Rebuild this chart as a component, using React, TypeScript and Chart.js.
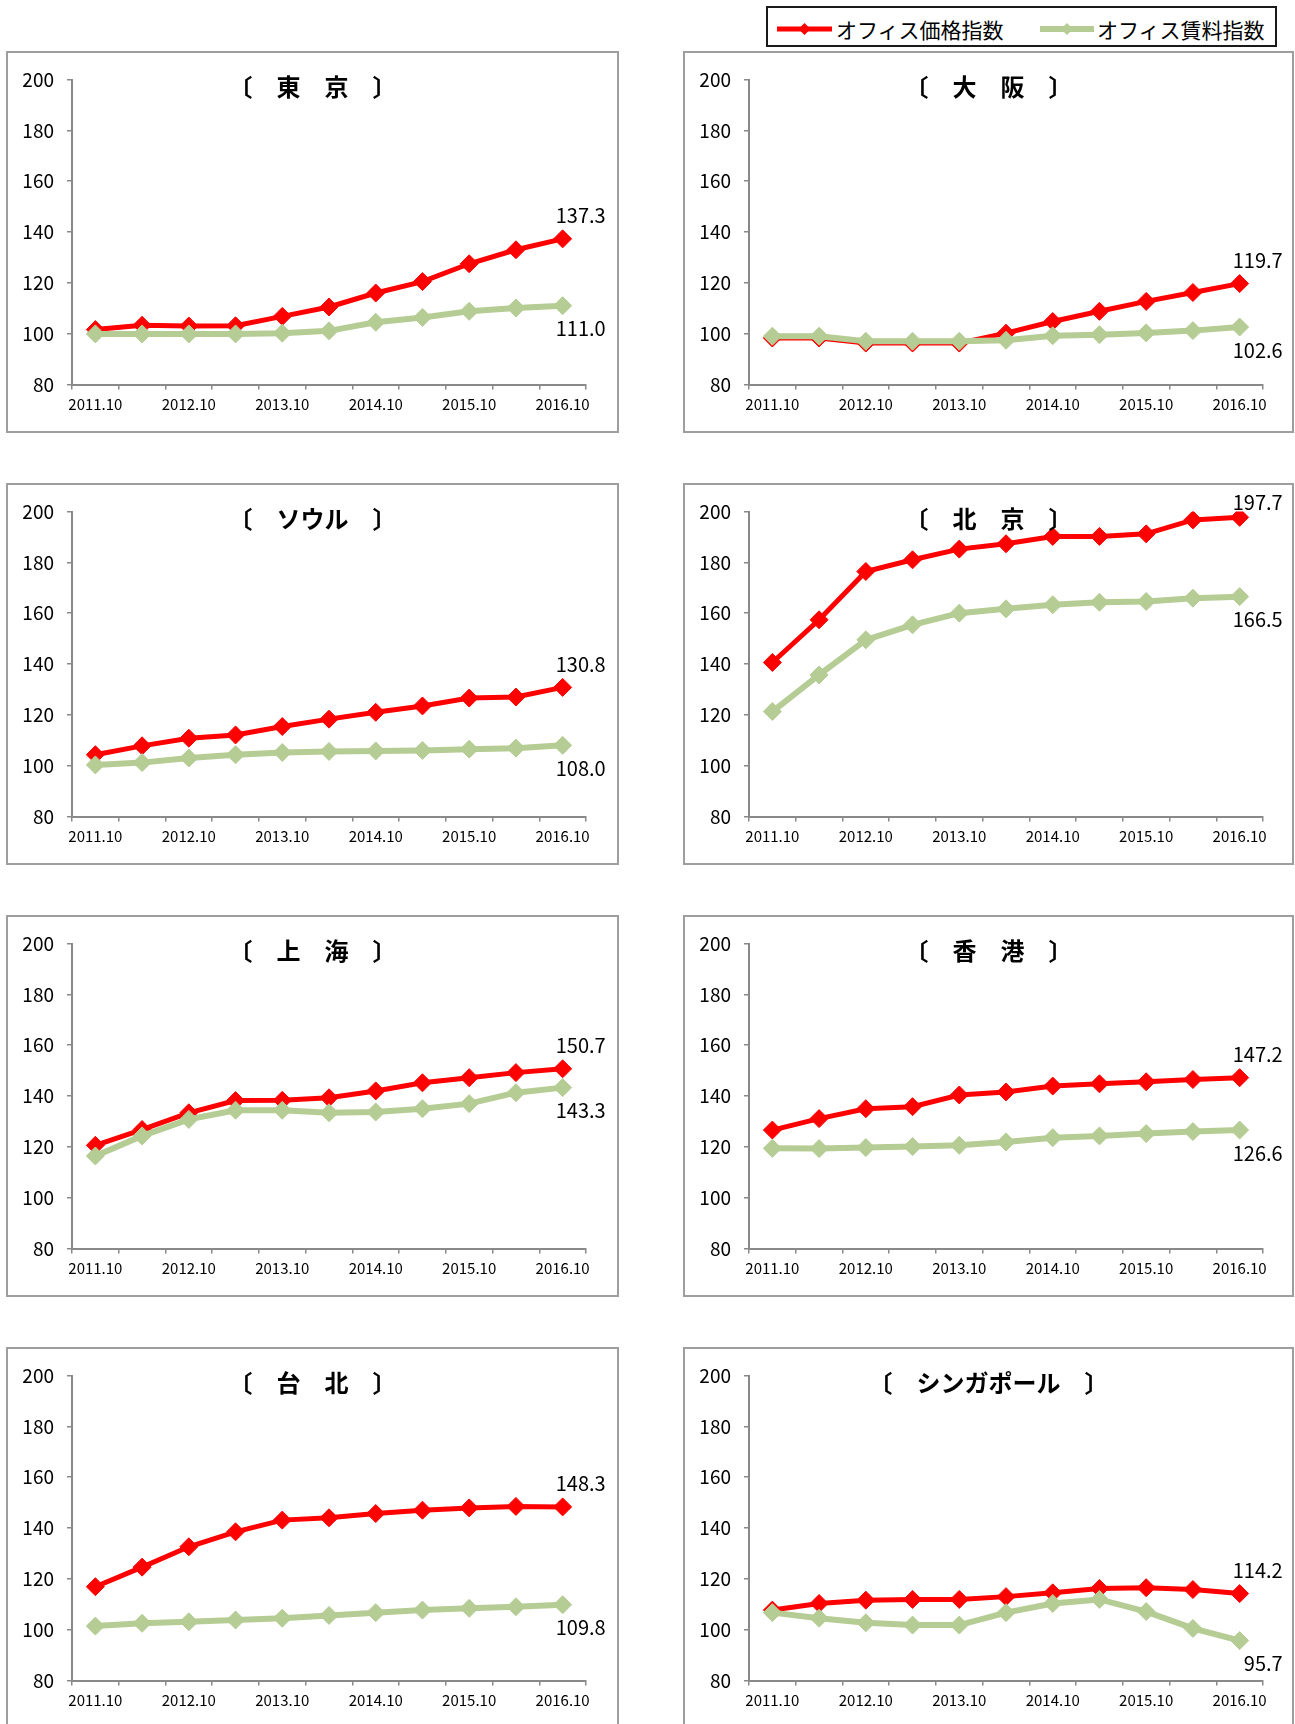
import React, { useEffect, useRef } from "react";
import { Chart, registerables } from "chart.js";

Chart.register(...registerables);

// ---- data ----
const categories = [
  "2011.10", "2012.4", "2012.10", "2013.4", "2013.10", "2014.4",
  "2014.10", "2015.4", "2015.10", "2016.4", "2016.10",
];
const yTicks = [80, 100, 120, 140, 160, 180, 200];
const seriesNames = ["オフィス価格指数", "オフィス賃料指数"];

const tokyoPrice = [101.6, 103.3, 103.0, 103.1, 106.8, 110.5, 116.0, 120.5, 127.5, 133.0, 137.3];
const tokyoRent = [99.9, 99.9, 99.9, 99.9, 100.2, 101.1, 104.5, 106.4, 108.8, 110.1, 111.0];

const osakaPrice = [98.3, 98.3, 96.3, 96.3, 96.3, 100.2, 104.8, 108.8, 112.7, 116.2, 119.7];
const osakaRent = [99.0, 99.0, 97.0, 97.0, 97.0, 97.4, 99.2, 99.6, 100.3, 101.2, 102.6];

const seoulPrice = [104.3, 107.8, 110.8, 112.1, 115.4, 118.3, 121.0, 123.5, 126.6, 127.0, 130.8];
const seoulRent = [100.3, 101.2, 103.0, 104.3, 105.2, 105.6, 105.8, 106.0, 106.5, 106.9, 108.0];

const beijingPrice = [140.6, 157.4, 176.4, 181.0, 185.2, 187.3, 190.2, 190.2, 191.2, 196.7, 197.7];
const beijingRent = [121.3, 135.7, 149.5, 155.4, 160.0, 161.7, 163.3, 164.3, 164.6, 165.9, 166.5];

const shanghaiPrice = [120.6, 126.8, 133.4, 138.2, 138.3, 139.3, 142.0, 145.2, 147.2, 149.2, 150.7];
const shanghaiRent = [116.4, 124.3, 130.8, 134.4, 134.4, 133.4, 133.7, 135.0, 137.0, 141.3, 143.3];

const hongkongPrice = [126.6, 131.1, 135.0, 135.8, 140.4, 141.6, 143.9, 144.8, 145.6, 146.5, 147.2];
const hongkongRent = [119.4, 119.3, 119.7, 120.1, 120.6, 121.9, 123.6, 124.3, 125.2, 126.0, 126.6];

const taipeiPrice = [116.9, 124.6, 132.6, 138.5, 143.1, 144.0, 145.7, 147.0, 147.9, 148.5, 148.3];
const taipeiRent = [101.4, 102.5, 103.1, 103.8, 104.5, 105.6, 106.7, 107.7, 108.4, 109.0, 109.8];

const singaporePrice = [107.7, 110.3, 111.6, 111.9, 111.9, 113.0, 114.5, 116.2, 116.5, 115.8, 114.2];
const singaporeRent = [106.7, 104.5, 102.7, 101.8, 101.8, 106.7, 110.3, 111.9, 107.1, 100.5, 95.7];

const cityTitles = [
  "〔　東　京　〕", "〔　大　阪　〕",
  "〔　ソウル　〕", "〔　北　京　〕",
  "〔　上　海　〕", "〔　香　港　〕",
  "〔　台　北　〕", "〔　シンガポール　〕",
];
const priceSeries = [tokyoPrice, osakaPrice, seoulPrice, beijingPrice, shanghaiPrice, hongkongPrice, taipeiPrice, singaporePrice];
const rentSeries = [tokyoRent, osakaRent, seoulRent, beijingRent, shanghaiRent, hongkongRent, taipeiRent, singaporeRent];

// ---- style ----
const FONT = "'Noto Sans CJK JP', 'Noto Sans', sans-serif";
const RED = "#FF0000";
const GREEN = "#B5CC94";
const AXIS = "#898989";
const PANEL_BORDER = "#9E9E9E";

const colLefts = [6, 683];
const colWidths = [613, 611];
const rowTops = [51, 483, 915, 1347];
const PANEL_H = 382;

type PanelProps = {
  title: string;
  price: number[];
  rent: number[];
  left: number;
  top: number;
  width: number;
  height: number;
};

function Panel({ title, price, rent, left, top, width, height }: PanelProps) {
  const ref = useRef<HTMLCanvasElement>(null);

  useEffect(() => {
    const canvas = ref.current;
    if (!canvas) return;
    const plotTop = 28.5;
    const plotBottom = 333.5;
    const yAxisW = 66;
    const rightPad = width - 580;

    const titlePlugin = {
      id: "panelTitle",
      afterDraw(chart: any) {
        const ctx = chart.ctx;
        ctx.save();
        ctx.font = `bold 24px ${FONT}`;
        ctx.fillStyle = "#000";
        ctx.textAlign = "center";
        ctx.textBaseline = "middle";
        ctx.fillText(title, chart.width / 2, 36);
        ctx.restore();
      },
    };

    const endLabels = {
      id: "endLabels",
      afterDatasetsDraw(chart: any) {
        const ctx = chart.ctx;
        ctx.save();
        ctx.font = `20px ${FONT}`;
        ctx.fillStyle = "#000";
        ctx.textAlign = "right";
        ctx.textBaseline = "middle";
        chart.data.datasets.forEach((ds: any, i: number) => {
          const meta = chart.getDatasetMeta(i);
          const n = ds.data.length - 1;
          const pt = meta.data[n];
          const v = ds.data[n] as number;
          let y = i === 0 ? pt.y - 23 : pt.y + 23;
          if (y < 19) y = 19;
          ctx.fillText(v.toFixed(1), pt.x + 43, y);
        });
        ctx.restore();
      },
    };

    const chart = new Chart(canvas, {
      type: "line",
      data: {
        labels: categories,
        datasets: [
          {
            label: seriesNames[0],
            data: price,
            borderColor: RED,
            backgroundColor: RED,
            borderWidth: 5,
            pointStyle: "rectRot",
            pointRadius: 9,
            pointBorderWidth: 1,
            pointBackgroundColor: RED,
            pointBorderColor: RED,
            tension: 0,
            order: 2,
          },
          {
            label: seriesNames[1],
            data: rent,
            borderColor: GREEN,
            backgroundColor: GREEN,
            borderWidth: 6,
            pointStyle: "rectRot",
            pointRadius: 9,
            pointBorderWidth: 1,
            pointBackgroundColor: GREEN,
            pointBorderColor: GREEN,
            tension: 0,
            order: 1,
          },
        ],
      },
      options: {
        animation: false,
        responsive: false,
        maintainAspectRatio: false,
        events: [],
        layout: { padding: { left: 0, top: plotTop, right: rightPad, bottom: 0 } },
        plugins: {
          legend: { display: false },
          tooltip: { enabled: false },
          title: { display: false },
        },
        scales: {
          x: {
            type: "category",
            offset: true,
            grid: {
              offset: true,
              drawOnChartArea: false,
              drawTicks: true,
              tickLength: 5,
              color: AXIS,
              lineWidth: 1.5,
            },
            border: { display: true, color: AXIS, width: 2 },
            ticks: {
              autoSkip: false,
              maxRotation: 0,
              minRotation: 0,
              padding: 6,
              color: "#000",
              font: { family: FONT, size: 15 },
              callback: (_v: any, i: number) => (i % 2 === 0 ? categories[i] : ""),
            },
            afterFit: (s: any) => {
              s.height = height - plotBottom;
            },
          },
          y: {
            type: "linear",
            min: yTicks[0],
            max: yTicks[yTicks.length - 1],
            afterBuildTicks: (s: any) => {
              s.ticks = yTicks.map((v) => ({ value: v }));
            },
            grid: {
              drawOnChartArea: false,
              drawTicks: true,
              tickLength: 5,
              color: AXIS,
              lineWidth: 1.5,
            },
            border: { display: true, color: AXIS, width: 2 },
            ticks: {
              padding: 13,
              color: "#000",
              font: { family: FONT, size: 19 },
            },
            afterFit: (s: any) => {
              s.width = yAxisW;
            },
          },
        },
      } as any,
      plugins: [titlePlugin, endLabels],
    });
    return () => chart.destroy();
  }, [title, price, rent, width, height]);

  return (
    <>
      <div
        style={{
          position: "absolute",
          left,
          top,
          width,
          height,
          boxSizing: "border-box",
          border: `2px solid ${PANEL_BORDER}`,
          background: "#fff",
        }}
      />
      <canvas
        ref={ref}
        width={width}
        height={height}
        style={{ position: "absolute", left, top, width, height }}
      />
    </>
  );
}

function Legend() {
  const itemText: React.CSSProperties = {
    position: "absolute",
    top: 2,
    height: 38,
    lineHeight: "38px",
    fontFamily: FONT,
    fontSize: 21,
    color: "#000",
    whiteSpace: "nowrap",
  };
  return (
    <div
      style={{
        position: "absolute",
        left: 766,
        top: 6,
        width: 511,
        height: 41,
        boxSizing: "border-box",
        border: "2px solid #1a1a1a",
        background: "#fff",
      }}
    >
      <svg width={507} height={37} style={{ position: "absolute", left: 0, top: 0 }}>
        <line x1={9} y1={21} x2={64} y2={21} stroke={RED} strokeWidth={5} />
        <polygon points="36.5,15 42.5,21 36.5,27 30.5,21" fill={RED} />
        <line x1={272} y1={21} x2={326} y2={21} stroke={GREEN} strokeWidth={6} />
        <polygon points="299,15 305,21 299,27 293,21" fill={GREEN} />
      </svg>
      <div style={{ ...itemText, left: 68 }}>{seriesNames[0]}</div>
      <div style={{ ...itemText, left: 329 }}>{seriesNames[1]}</div>
    </div>
  );
}

export default function App() {
  const panels = cityTitles.map((t, i) => {
    const col = i % 2;
    const row = Math.floor(i / 2);
    return (
      <Panel
        key={t}
        title={t}
        price={priceSeries[i]}
        rent={rentSeries[i]}
        left={colLefts[col]}
        top={rowTops[row]}
        width={colWidths[col]}
        height={PANEL_H}
      />
    );
  });
  return (
    <div style={{ position: "absolute", left: 0, top: 0, width: 1295, height: 1724, background: "#fff", overflow: "hidden" }}>
      {panels}
      <Legend />
    </div>
  );
}
